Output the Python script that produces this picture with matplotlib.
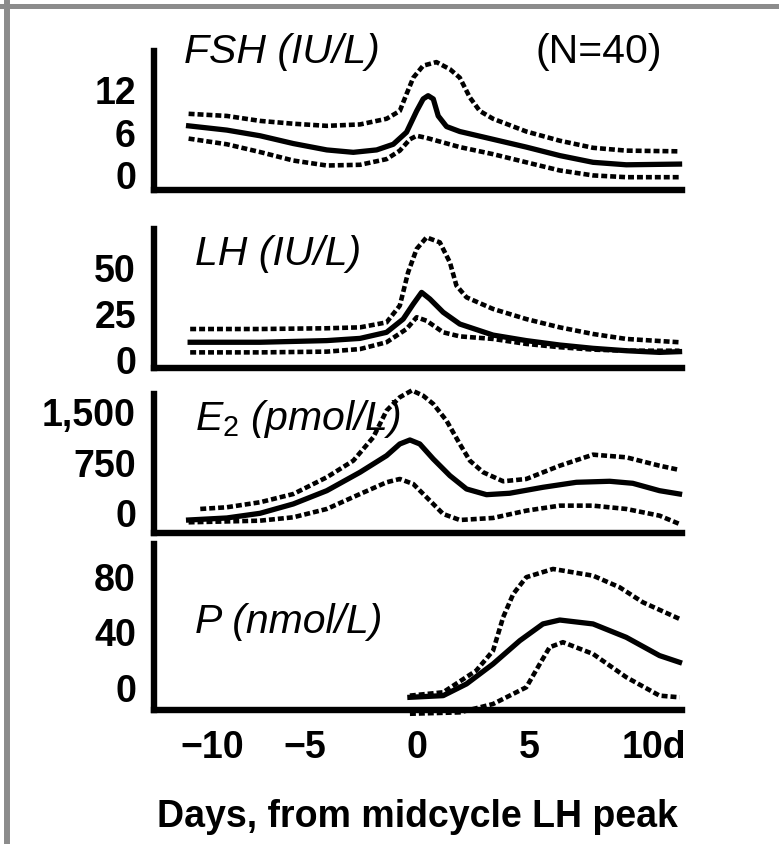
import matplotlib.pyplot as plt
from matplotlib.lines import Line2D
from matplotlib.transforms import ScaledTranslation

plt.rcParams['font.family'] = ['Liberation Sans', 'DejaVu Sans']
plt.rcParams['mathtext.fontset'] = 'custom'
plt.rcParams['mathtext.it'] = 'Liberation Sans:italic'
plt.rcParams['mathtext.rm'] = 'Liberation Sans'

# --- FSH (IU/L) ---
fsh_mean_d = [-10.16, -8.46, -6.98, -5.50, -4.01, -2.83, -1.79, -1.05, -0.46, -0.01, 0.28, 0.50,
              0.73, 0.95, 1.32, 1.91, 3.39, 4.87, 6.36, 7.84, 9.32, 11.69]
fsh_mean = [6.8, 6.2, 5.4, 4.3, 3.4, 3.06, 3.4, 4.2, 5.9, 8.9, 10.6, 11.06,
            10.6, 8.2, 6.7, 6.0, 4.9, 3.8, 2.6, 1.65, 1.3, 1.4]
fsh_hi_d = [-10.16, -8.46, -6.98, -5.50, -4.01, -2.53, -1.35, -0.76, -0.46, -0.16, 0.28, 0.87,
            1.47, 1.91, 2.36, 2.80, 3.39, 4.87, 6.36, 7.84, 9.32, 11.69]
fsh_hi = [8.5, 8.2, 7.5, 7.1, 6.8, 7.0, 7.8, 8.9, 11.3, 13.6, 15.3, 15.8,
          14.8, 13.6, 10.8, 8.9, 7.8, 6.0, 4.7, 3.7, 3.3, 3.2]
fsh_lo_d = [-10.16, -8.46, -6.98, -5.50, -4.01, -2.53, -1.35, -0.76, -0.31, -0.01, 0.43,
            1.91, 3.39, 4.87, 6.36, 7.84, 9.32, 11.69]
fsh_lo = [5.0, 4.2, 3.1, 1.9, 1.2, 1.3, 2.1, 3.3, 4.9, 5.4, 5.1,
          3.8, 2.8, 1.65, 0.5, -0.2, -0.45, -0.45]

# --- LH (IU/L) ---
lh_mean_d = [-10.09, -6.98, -4.01, -2.53, -1.35, -0.61, -0.16, 0.21, 0.58, 1.17, 1.91,
             3.39, 4.87, 6.36, 7.84, 9.32, 10.8, 11.69]
lh_mean = [9.1, 9.1, 10.0, 11.2, 14.5, 21.7, 29.9, 36.2, 32.6, 25.4, 19.0,
           13.0, 10.0, 7.6, 5.8, 4.5, 3.6, 4.0]
lh_hi_d = [-10.09, -6.98, -4.01, -2.53, -1.35, -0.76, -0.39, -0.01, 0.43, 1.02, 1.47, 1.76,
           2.21, 3.39, 4.87, 6.36, 7.84, 9.32, 11.69]
lh_hi = [16.3, 16.3, 16.7, 17.2, 19.9, 29.0, 47.1, 59.8, 66.1, 63.4, 52.5, 39.9,
         33.5, 27.2, 21.7, 17.2, 13.6, 10.9, 9.1]
lh_lo_d = [-10.09, -6.98, -4.01, -2.53, -1.35, -0.46, -0.01, 0.43, 1.17, 1.91,
           3.39, 4.87, 6.36, 7.84, 9.32, 11.69]
lh_lo = [3.6, 3.6, 4.0, 5.4, 9.1, 16.3, 22.7, 20.8, 14.5, 12.3,
         10.9, 8.2, 6.4, 5.1, 4.5, 4.5]

# --- E2 (pmol/L) ---
e2_mean_d = [-10.16, -8.46, -6.98, -5.50, -4.01, -2.53, -1.35, -0.76, -0.31, 0.13, 0.73, 1.47,
             2.21, 3.10, 4.13, 5.61, 7.10, 8.58, 9.61, 10.8, 11.69]
e2_mean = [-114, -84, -15, 123, 319, 591, 836, 1009, 1068, 1009, 787, 541,
           344, 260, 281, 369, 443, 458, 428, 319, 270]
e2_hi_d = [-9.64, -8.46, -6.98, -5.50, -4.01, -2.83, -1.94, -1.35, -0.76, -0.22, 0.28, 0.73,
           1.32, 1.91, 2.36, 2.95, 3.84, 4.87, 6.36, 7.84, 9.32, 10.8, 11.69]
e2_hi = [49, 74, 148, 270, 517, 762, 1108, 1501, 1699, 1800, 1722, 1600,
         1353, 1009, 762, 591, 458, 492, 688, 851, 812, 688, 625]
e2_lo_d = [-10.16, -6.98, -5.50, -4.01, -2.53, -1.35, -0.76, -0.16, 0.43, 1.17, 1.91,
           3.39, 4.87, 6.36, 7.84, 9.32, 10.8, 11.69]
e2_lo = [-148, -124, -74, 49, 270, 443, 492, 418, 222, -25, -114,
         -84, 24, 98, 98, 49, -50, -173]

# --- P (nmol/L) ---
p_mean_d = [-0.31, 1.17, 2.21, 3.39, 4.58, 5.61, 6.36, 7.84, 9.32, 10.8, 11.69]
p_mean = [-7.2, -6.0, 2.4, 16.7, 33.4, 45.4, 48.2, 45.4, 35.8, 22.7, 17.9]
p_hi_d = [-0.31, 1.17, 2.64, 3.39, 3.84, 4.29, 4.87, 6.06, 7.84, 9.02, 10.06, 11.69]
p_hi = [-6.0, -3.6, 11.9, 26.2, 50.2, 66.9, 78.9, 84.8, 80.0, 71.7, 60.9, 49.0]
p_lo_d = [-0.31, 1.91, 3.39, 4.87, 5.47, 5.91, 6.50, 7.84, 9.32, 10.8, 11.69]
p_lo = [-19, -18, -12, 0, 16.7, 28.7, 32.3, 23.9, 7.2, -6.0, -7.2]

panels = [
    ((fsh_mean_d, fsh_mean), (fsh_hi_d, fsh_hi), (fsh_lo_d, fsh_lo), [0, 6, 12], ['0', '6', '12']),
    ((lh_mean_d, lh_mean), (lh_hi_d, lh_hi), (lh_lo_d, lh_lo), [0, 25, 50], ['0', '25', '50']),
    ((e2_mean_d, e2_mean), (e2_hi_d, e2_hi), (e2_lo_d, e2_lo), [0, 750, 1500], ['0', '750', '1,500']),
    ((p_mean_d, p_mean), (p_hi_d, p_hi), (p_lo_d, p_lo), [0, 40, 80], ['0', '40', '80']),
]
# pixel top/bottom of each panel and its y range
boxes = [(52, 191), (230, 369), (395, 534), (545, 711)]
ylims = [(-2.26, 17.37), (-4.89, 70.65), (-306, 1747), (-16.3, 102.7)]

W, H = 779, 845
fig = plt.figure(figsize=(W / 100, H / 100), dpi=100)

# gray frame of the scanned figure
fig.add_artist(Line2D([0, 1], [1 - 6.5 / H] * 2, color='#8c8c8c', lw=3.6))
fig.add_artist(Line2D([7 / W] * 2, [0, 1 - 4 / H], color='#8c8c8c', lw=4.3))

x0, x1 = 154, 682
dotted = dict(color='black', lw=3.3, linestyle=(0, (1.3, 0.65)), dash_capstyle='butt', clip_on=False)
axes = []
for (mean, hi, lo, yt, ytl), (top, bot), yl in zip(panels, boxes, ylims):
    ax = fig.add_axes([x0 / W, 1 - bot / H, (x1 - x0) / W, (bot - top) / H])
    ax.plot(*hi, **dotted)
    ax.plot(*lo, **dotted)
    ax.plot(*mean, color='black', lw=3.8, solid_joinstyle='round', clip_on=False)
    ax.set_xlim(-11.7, 11.8)
    ax.set_ylim(*yl)
    for s in ['top', 'right']:
        ax.spines[s].set_visible(False)
    for s in ['left', 'bottom']:
        ax.spines[s].set_linewidth(4.6)
    ax.set_yticks(yt)
    ax.set_yticklabels(ytl, fontsize=27, fontweight='bold')
    ax.tick_params(length=0, pad=13)
    ax.set_xticks([])
    ax.patch.set_alpha(0)
    axes.append(ax)

ax = axes[-1]
ax.set_xticks([-10, -5, 0, 5, 10])
ax.set_xticklabels(['\u221210', '\u22125', '0', '5', '10d'], fontsize=27, fontweight='bold')
ax.tick_params(axis='x', pad=14)
shifts = [0.20, 0.0, 0.0, 0.0, 0.12]
for lab, dx in zip(ax.get_xticklabels(), shifts):
    lab.set_transform(lab.get_transform() + ScaledTranslation(dx, 0, fig.dpi_scale_trans))


def ptext(x, y, s, **kw):
    fig.text(x / W, 1 - y / H, s, va='baseline', **kw)


ital = dict(fontsize=29.5, fontstyle='italic')
ptext(184, 63, 'FSH (IU/L)', **ital)
ptext(536, 63, '(N=40)', fontsize=29.5)
ptext(195, 265, 'LH (IU/L)', **ital)
ptext(195, 430, r'$\mathit{E_2}$ (pmol/L)', **ital)
ptext(195, 633, 'P (nmol/L)', **ital)
ptext(417, 827, 'Days, from midcycle LH peak', fontsize=27, fontweight='bold', ha='center')

fig.savefig('out.png', dpi=100)
